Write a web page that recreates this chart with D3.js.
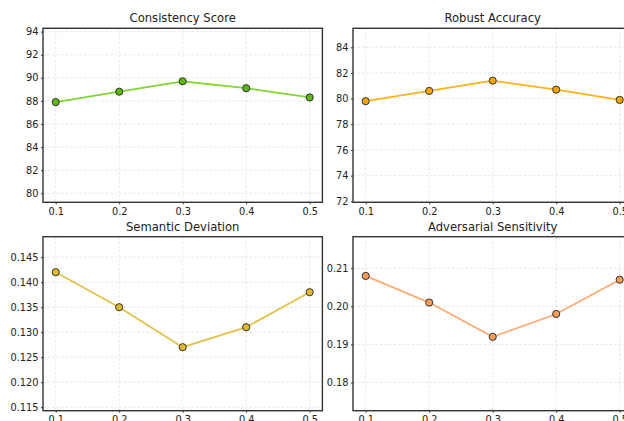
<!DOCTYPE html>
<html>
<head>
<meta charset="utf-8">
<script src="https://cdn.jsdelivr.net/npm/d3@7"></script>
<style>
  html, body { margin: 0; padding: 0; background: #fff; overflow: hidden; }
  svg { display: block; font-family: "DejaVu Sans", sans-serif; }
</style>
</head>
<body>
<svg id="chart" width="624" height="421"></svg>
<script>
// Perturbation strength on the x axis, shared by all four panels
const epsilons = [0.1, 0.2, 0.3, 0.4, 0.5];
const xTicks = [0.1, 0.2, 0.3, 0.4, 0.5];

// Metric values per panel
const consistencyScore = [87.9, 88.8, 89.7, 89.1, 88.3];
const robustAccuracy = [79.8, 80.6, 81.4, 80.7, 79.9];
const semanticDeviation = [0.142, 0.135, 0.127, 0.131, 0.138];
const adversarialSensitivity = [0.208, 0.201, 0.192, 0.198, 0.207];

// Y tick labels per panel
const consistencyTicks = [80, 82, 84, 86, 88, 90, 92, 94];
const robustTicks = [72, 74, 76, 78, 80, 82, 84];
const semanticTicks = [0.115, 0.120, 0.125, 0.130, 0.135, 0.140, 0.145];
const adversarialTicks = [0.18, 0.19, 0.20, 0.21];

const panels = [
  { title: "Consistency Score", values: consistencyScore, ticks: consistencyTicks, fmt: d3.format("d"),
    yDomain: [79.22, 94.29], line: "#7ed62f", fill: "#5cb80c", col: 0, row: 0 },
  { title: "Robust Accuracy", values: robustAccuracy, ticks: robustTicks, fmt: d3.format("d"),
    yDomain: [71.92, 85.48], line: "#ffb31a", fill: "#f5a500", col: 1, row: 0 },
  { title: "Semantic Deviation", values: semanticDeviation, ticks: semanticTicks, fmt: d3.format(".3f"),
    yDomain: [0.1143, 0.1491], line: "#e3c24a", fill: "#e0b82c", col: 0, row: 1 },
  { title: "Adversarial Sensitivity", values: adversarialSensitivity, ticks: adversarialTicks, fmt: d3.format(".2f"),
    yDomain: [0.1726, 0.2183], line: "#ffab73", fill: "#f99c55", col: 1, row: 1 }
];

const svg = d3.select("#chart");
const panelW = 279.4, panelH = 174;
const lefts = [43, 353], tops = [28.3, 236.7];

panels.forEach(p => {
  const x0 = lefts[p.col], y0 = tops[p.row];
  const g = svg.append("g").attr("transform", `translate(${x0},${y0})`);

  const x = d3.scaleLinear().domain([0.08, 0.52]).range([0, panelW]);
  const y = d3.scaleLinear().domain(p.yDomain).range([panelH, 0]);

  // dashed grid
  g.append("g").selectAll("line.gx").data(xTicks).join("line")
    .attr("x1", d => x(d)).attr("x2", d => x(d)).attr("y1", 0).attr("y2", panelH)
    .attr("stroke", "#e0e0e0").attr("stroke-width", 0.8).attr("stroke-dasharray", "2.5,2");
  g.append("g").selectAll("line.gy").data(p.ticks).join("line")
    .attr("x1", 0).attr("x2", panelW).attr("y1", d => y(d)).attr("y2", d => y(d))
    .attr("stroke", "#e0e0e0").attr("stroke-width", 0.8).attr("stroke-dasharray", "2.5,2");

  // axes
  const xAxis = d3.axisBottom(x).tickValues(xTicks).tickFormat(d3.format(".1f")).tickSize(2).tickPadding(3.5);
  const yAxis = d3.axisLeft(y).tickValues(p.ticks).tickFormat(p.fmt).tickSize(2).tickPadding(2.5);
  const gx = g.append("g").attr("transform", `translate(0,${panelH})`).call(xAxis);
  const gy = g.append("g").call(yAxis);
  [gx, gy].forEach(a => {
    a.select(".domain").remove();
    a.selectAll("line").attr("stroke", "#333");
    a.selectAll("text").attr("fill", "#222").style("font-size", "9.8px").style("font-family", "DejaVu Sans, sans-serif");
  });

  // frame
  g.append("rect").attr("width", panelW).attr("height", panelH)
    .attr("fill", "none").attr("stroke", "#333").attr("stroke-width", 1.4);

  // series line and markers
  const pts = epsilons.map((e, i) => [e, p.values[i]]);
  g.append("path").datum(pts)
    .attr("fill", "none").attr("stroke", p.line).attr("stroke-width", 1.8)
    .attr("d", d3.line().x(d => x(d[0])).y(d => y(d[1])));
  g.append("g").selectAll("circle").data(pts).join("circle")
    .attr("cx", d => x(d[0])).attr("cy", d => y(d[1])).attr("r", 3.6)
    .attr("fill", p.fill).attr("stroke", "#333").attr("stroke-width", 1);

  // title
  g.append("text").attr("x", panelW / 2).attr("y", -6)
    .attr("text-anchor", "middle").attr("fill", "#222")
    .style("font-size", "11.6px").text(p.title);
});
</script>
</body>
</html>
